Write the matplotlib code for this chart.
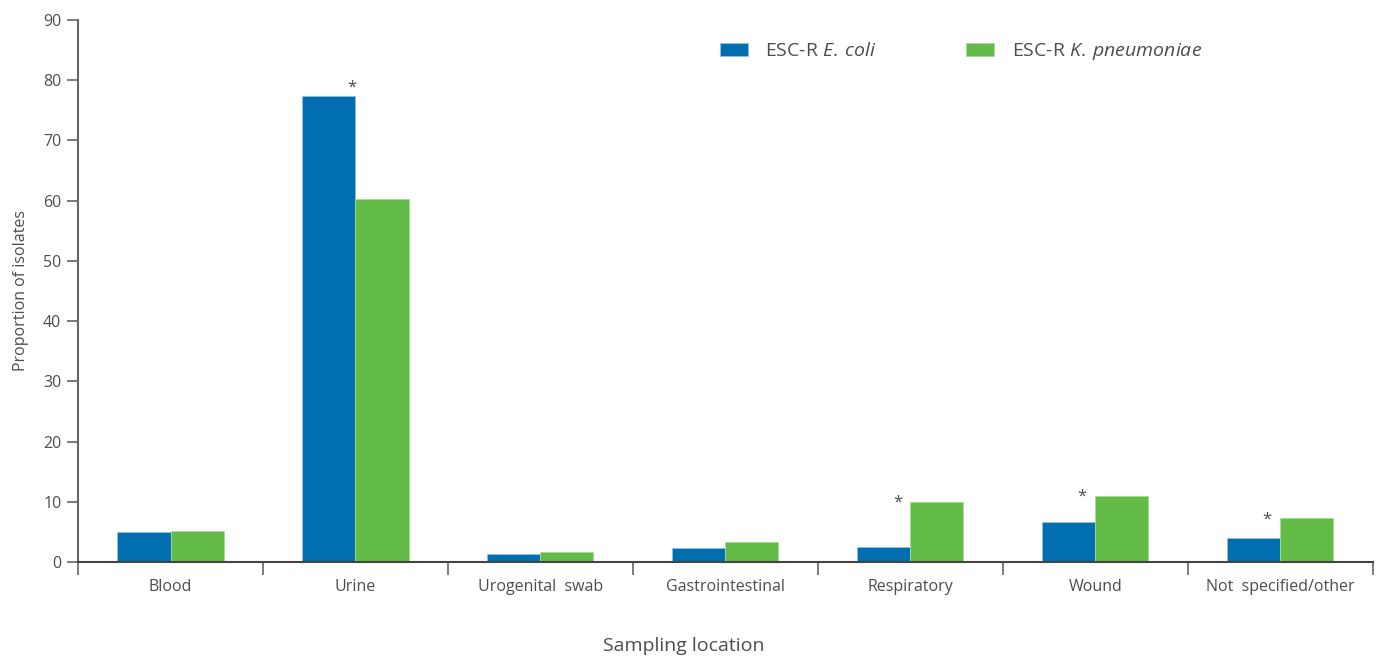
import numpy as np
import matplotlib.pyplot as plt

# Proportion of ESC-R isolates by sampling location
locations = [
    "Blood",
    "Urine",
    "Urogenital  swab",
    "Gastrointestinal",
    "Respiratory",
    "Wound",
    "Not  specified/other",
]
ecoli = [5.0, 77.4, 1.3, 2.3, 2.5, 6.6, 4.0]
kpneu = [5.2, 60.3, 1.7, 3.3, 10.0, 11.0, 7.3]
significant = [False, True, False, False, True, True, True]
yticks = [0, 10, 20, 30, 40, 50, 60, 70, 80, 90]

BLUE = "#006eaf"
GREEN = "#62bb46"
TEXT = "#4d4d4d"
AXIS = "#666666"

plt.rcParams["font.family"] = ["Open Sans", "DejaVu Sans"]
plt.rcParams["mathtext.fontset"] = "custom"
plt.rcParams["mathtext.rm"] = "Open Sans"
plt.rcParams["mathtext.it"] = "Open Sans:italic"

fig = plt.figure(figsize=(13.81, 6.57), dpi=100)
ax = fig.add_axes([0.0565, 0.1446, 0.9375, 0.825])

x = np.arange(len(locations))
width = 0.287

ax.bar(
    x - width / 2,
    ecoli,
    width,
    color=BLUE,
    edgecolor="#8cc3e6",
    linewidth=0.6,
    label=r"ESC-R $\it{E.\:coli}$",
)
ax.bar(
    x + width / 2,
    kpneu,
    width,
    color=GREEN,
    edgecolor="#a7dc95",
    linewidth=0.6,
    label=r"ESC-R $\it{K.\:pneumoniae}$",
)

# asterisks for significant differences
for i, sig in enumerate(significant):
    if not sig:
        continue
    if ecoli[i] > kpneu[i]:
        xs, y = x[i] - 0.02, ecoli[i] + 1.3
    else:
        xs, y = x[i] - 0.07, kpneu[i] - 0.2
    ax.text(xs, y, "*", ha="center", va="center", fontsize=12, color=TEXT)

ax.set_xlim(-0.5, len(locations) - 0.5)
ax.set_ylim(0, 90)
ax.set_yticks(yticks)

ax.set_xticks(x)
ax.set_xticklabels(locations)
ax.set_xticks(np.arange(len(locations) + 1) - 0.5, minor=True)
ax.tick_params(axis="x", which="major", length=0, pad=12, labelsize=11.5, labelcolor=TEXT)
ax.tick_params(axis="x", which="minor", length=9, width=1.2, color=AXIS)
ax.tick_params(axis="y", length=8, width=1.2, color=AXIS, labelsize=11.5, labelcolor=TEXT, pad=4)

for side in ["top", "right"]:
    ax.spines[side].set_visible(False)
ax.spines["left"].set_color(AXIS)
ax.spines["bottom"].set_color("#444444")
ax.spines["left"].set_linewidth(1.5)
ax.spines["bottom"].set_linewidth(1.5)

ax.set_ylabel("Proportion of isolates", fontsize=11.5, color=TEXT, labelpad=10)
ax.set_xlabel("Sampling location", fontsize=14, color=TEXT)
ax.xaxis.set_label_coords(0.468, -0.138)

ax.legend(
    loc="center left",
    bbox_to_anchor=(0.482, 0.9415),
    ncol=2,
    frameon=False,
    fontsize=14,
    handlelength=1.45,
    handleheight=0.6,
    handletextpad=0.9,
    columnspacing=4.6,
    labelcolor=TEXT,
)

fig.savefig("out.png", dpi=100)
